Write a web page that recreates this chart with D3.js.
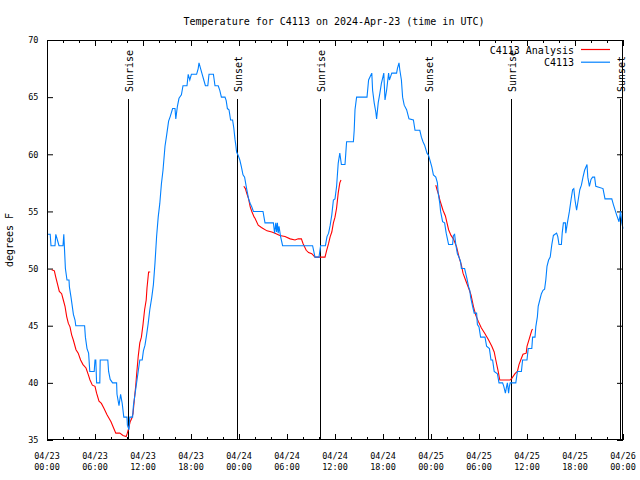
<!DOCTYPE html>
<html><head><meta charset="utf-8">
<script src="https://cdn.jsdelivr.net/npm/d3@7"></script>
<style>
body{margin:0;background:#fff}
svg{display:block}
text{font-family:"DejaVu Sans Mono","Liberation Mono",monospace;font-size:10px;fill:#000}
text.tick{font-size:8.5px}
</style>
</head><body>
<svg id="chart" width="640" height="480"></svg>
<script>
// ---- DATA (hours after 2024-04-23 00:00 UTC) ----
const obsHours = [0.0,0.4,0.5,1.0,1.1,1.3,1.5,2.0,2.1,2.3,2.5,2.75,2.8,3.0,3.1,3.3,3.5,3.6,4.7,4.8,5.0,5.2,5.35,5.9,6.0,6.1,6.2,6.6,6.65,7.6,7.7,7.9,8.2,8.7,8.75,9.0,9.1,9.2,9.4,9.6,10.0,10.05,10.25,10.35,10.7,10.8,11.0,11.2,11.4,11.6,11.9,12.05,12.25,12.45,12.65,12.85,13.1,13.3,13.5,13.7,13.9,14.1,14.3,14.5,14.75,14.96,15.2,15.4,15.7,16.0,16.1,16.3,16.5,16.8,17.0,17.5,17.65,17.85,18.05,18.7,18.9,19.0,19.2,19.4,19.6,19.8,20.1,20.25,20.8,21.0,21.4,21.6,21.8,22.25,22.4,22.55,22.75,22.95,23.2,23.35,23.5,23.6,23.7,23.9,24.1,24.3,24.5,24.7,24.95,25.2,25.4,25.6,25.8,27.0,27.25,28.3,28.45,28.6,28.7,28.8,28.9,29.0,29.2,29.45,33.2,33.5,34.0,34.2,34.8,35.0,35.2,35.4,35.6,35.8,36.0,36.2,36.4,36.6,36.8,37.25,37.35,37.45,38.3,38.4,38.5,38.7,40.0,40.2,40.4,40.6,40.7,40.9,41.1,41.2,41.4,41.6,41.8,42.0,42.1,42.25,42.45,42.7,42.8,42.95,43.1,43.7,43.8,44.0,44.1,44.3,44.45,44.65,44.95,45.25,45.8,46.0,46.6,46.8,47.0,47.2,47.5,47.7,47.9,48.1,48.3,48.6,48.8,48.9,49.1,49.2,49.45,49.7,49.9,50.2,50.7,50.8,50.95,51.1,51.3,51.5,51.7,51.8,52.2,52.5,52.7,52.85,52.95,53.2,53.4,53.7,53.8,54.0,54.2,54.75,54.95,55.3,55.5,55.7,55.9,56.3,56.5,56.95,57.1,57.3,57.45,57.55,57.7,57.8,57.9,58.6,58.8,59.3,59.45,60.0,60.15,60.6,60.7,61.0,61.1,61.3,61.4,61.6,61.8,62.0,62.2,62.35,62.5,62.7,62.9,63.1,63.3,63.7,63.85,64.0,64.3,64.4,64.55,64.8,64.85,65.05,65.3,65.5,65.7,65.85,66.0,66.2,66.4,66.6,66.8,67.0,67.2,67.5,67.6,67.8,68.0,68.2,68.45,68.6,69.5,69.75,70.6,70.8,71.2,71.5,71.7,71.85,72.0];
const obsTemps = [53,53,52,52,53,52.5,52,52,53,50,49,49,48.4,47.5,47,46,45.5,45,45,44,43,42.6,41,41,42,42,40,40,42,42,41,40.3,40,40,39,38,38.5,39,38.2,37,37,36.3,35.9,37,37,38,39,40,41,42,42,42.8,43.3,44.2,45.2,46.4,47.5,48.6,50.5,52.8,54.5,55.7,57.4,58.6,60.7,61.7,62.9,63.3,64,64,63.1,64.2,64.9,65.2,66,66,67,66.5,67,67,67.5,68,67.5,67,66.5,66,66,67,67,66,66,65.6,65,65,64.7,64,63.9,63,63,62.3,61.3,60.8,60.2,59.9,59.5,58.9,58.2,58,57,56.1,55.7,55.4,55,55,54,54,53.1,54,53.2,54,53.1,53.7,52.8,52,52,51,51,52,52,52.8,53.1,53.8,54.7,56,56.1,57.2,59.2,60.1,59.1,59.1,60.1,61.1,61.1,62.1,63.9,65,65,66.5,66.8,67.1,65.6,64.5,63.7,63.1,64.5,65.3,66.2,66.8,67.1,64.75,65.6,67.1,66.5,66.8,67.1,67.1,67.5,68,67.4,66.5,65,64.3,63.9,63.1,63,62.1,62.1,61.5,61.1,60.8,60.1,59.9,59.4,58.9,58.2,58,57.5,56.6,55.7,55,54.1,54,53.1,52.1,52.1,52.9,53,52.1,51.3,51,50.6,50,50,49.1,48.4,48.1,47.5,46.7,46.1,46.1,45.1,44.9,44,44,43.2,43,42,42,41,40.8,40,40,39.7,39.1,39.7,40,39.1,39.7,40,40,41,41,42,42,43,43,44,44,44.9,45.8,46.7,47.25,47.8,48.1,48.2,49,50.2,50.75,51,52.1,52.9,53.1,52.8,52.1,52.1,53.1,54,54,53.1,54,55,56,56.9,57,56,55.1,56,56.9,57.3,58,58.6,59.1,58,57.2,57.8,58,58,57.2,57,56.1,56.1,55.6,54.7,54.1,55,54,53.5];

// analysis series; null separates the three runs
const anaHours = [0.58,0.92,1.08,1.33,1.54,1.83,2.04,2.25,2.46,2.67,2.875,3.08,3.29,3.625,3.9,4.2,4.5,4.875,5.17,5.375,5.67,6.0,6.2,6.5,6.8,7.1,7.5,7.75,8.0,8.3,8.6,9.1,9.5,9.9,10.04,10.2,10.4,10.6,10.75,10.9,11.1,11.2,11.4,11.6,11.8,12.0,12.2,12.4,12.5,12.7,12.9,
  13.5,
  24.6,24.8,24.96,25.2,25.4,25.6,25.9,26.0,26.4,26.8,27.5,28.1,28.5,29.1,29.75,30.4,31.0,31.4,31.8,32.0,32.4,32.7,33.1,33.5,34.75,34.96,35.2,35.4,35.6,35.8,36.0,36.2,36.4,36.6,36.75,
  37.5,
  48.6,48.75,48.98,49.1,49.5,49.8,50.0,50.2,50.5,50.8,51.2,51.5,51.8,52.0,52.4,52.7,53.0,53.3,53.6,53.9,54.3,54.75,55.2,55.6,55.9,56.1,56.4,56.6,57.9,58.1,58.5,58.8,59.0,59.3,59.5,59.9,60.0,60.3,60.6,60.7];
const anaTemps = [49.9,49.8,49.3,48.6,48.0,47.8,47.25,46.7,45.8,45.2,44.9,44.2,43.75,42.9,42.6,42.0,41.6,41.3,40.7,40.25,39.8,39.7,39.1,38.4,38.2,37.8,37.2,36.9,36.6,36.1,35.6,35.6,35.4,35.3,35.6,36.0,36.6,36.9,37.3,38.4,39.8,40.7,42.3,43.5,44.0,45.1,46.4,47.25,48.3,49.7,49.7,
  null,
  57.2,57.0,56.6,56.1,55.4,55.0,54.5,54.4,53.8,53.6,53.3,53.2,53.1,52.9,52.8,52.6,52.5,52.6,52.6,52.2,51.6,51.4,51.3,51.0,51.0,51.6,52.2,52.8,53.2,54.0,54.5,55.3,56.6,57.5,57.75,
  null,
  57.3,56.9,56.4,56.0,55.1,54.6,54.0,53.4,52.9,52.6,51.9,51.0,50.3,49.6,48.85,48.3,47.7,46.7,45.9,45.4,44.8,44.3,43.75,43.2,42.7,42.0,41.0,40.25,40.25,40.4,40.8,41.0,41.6,42.15,42.5,42.6,43.2,43.9,44.6,44.7];

const sunLabels = ["Sunrise","Sunset","Sunrise","Sunset","Sunrise","Sunset"];
const sunHours = [10.17,23.7,34.1,47.67,58.0,71.6];

const yTicks = [35,40,45,50,55,60,65,70];
const titleText = "Temperature for C4113 on 2024-Apr-23 (time in UTC)";
const yLabel = "degrees F";
const seriesNames = ["C4113 Analysis","C4113"];
const seriesColors = ["#ff0000","#0080ff"];

// ---- CHART ----
const base = Date.UTC(2024,3,23,0,0);
const toDate = h => new Date(base + h*3600000);
const L=47,R=623,T=40,B=440;
const svg = d3.select("#chart");
const x = d3.scaleUtc().domain([toDate(0),toDate(72)]).range([L,R]);
const y = d3.scaleLinear().domain([35,70]).range([B,T]);

svg.append("rect").attr("width",640).attr("height",480).attr("fill","#fff");

// title
svg.append("text").attr("x",334).attr("y",24.5).attr("text-anchor","middle").text(titleText);
// y label
svg.append("text").attr("transform","translate(13,240) rotate(-90)").attr("text-anchor","middle").text(yLabel);

const major = d3.utcHour.every(6), minor = d3.utcHour.every(2);
function styleAxis(g){ g.select(".domain").remove(); g.selectAll("line").attr("stroke","#000"); }

// bottom axis ticks
svg.append("g").attr("transform",`translate(0,${B})`)
  .call(d3.axisBottom(x).ticks(minor).tickSize(-3).tickFormat("")).call(styleAxis);
svg.append("g").attr("transform",`translate(0,${B})`)
  .call(d3.axisBottom(x).ticks(major).tickSize(-6).tickFormat("")).call(styleAxis);
// top axis ticks
svg.append("g").attr("transform",`translate(0,${T})`)
  .call(d3.axisTop(x).ticks(minor).tickSize(-3).tickFormat("")).call(styleAxis);
svg.append("g").attr("transform",`translate(0,${T})`)
  .call(d3.axisTop(x).ticks(major).tickSize(-6).tickFormat("")).call(styleAxis);
// x labels (two lines)
const fD = d3.utcFormat("%m/%d"), fT = d3.utcFormat("%H:%M");
x.ticks(major).forEach(d=>{
  const t = svg.append("text").attr("class","tick").attr("x",x(d)).attr("text-anchor","middle");
  t.append("tspan").attr("x",x(d)).attr("y",458.5).text(fD(d));
  t.append("tspan").attr("x",x(d)).attr("y",469.8).text(fT(d));
});
// left axis
svg.append("g").attr("transform",`translate(${L},0)`)
  .call(d3.axisLeft(y).tickValues(yTicks).tickSize(-6).tickPadding(8.5).tickFormat(d3.format("d")))
  .call(styleAxis)
  .call(g=>g.selectAll("text").attr("class","tick").attr("font-size",null).attr("font-family",null).attr("fill","#000"));
// right axis
svg.append("g").attr("transform",`translate(${R},0)`)
  .call(d3.axisRight(y).tickValues(yTicks).tickSize(-6).tickFormat("")).call(styleAxis);

// sunrise/sunset lines
sunHours.forEach((h,i)=>{
  const xx = Math.round(x(toDate(h)))+0.5;
  svg.append("line").attr("x1",xx).attr("x2",xx).attr("y1",99).attr("y2",B).attr("stroke","#000").attr("stroke-width",1);
  svg.append("text").attr("transform",`translate(${xx+4},92) rotate(-90)`).attr("text-anchor","start").text(sunLabels[i]);
});

// data lines
const obs = obsHours.map((h,i)=>({d:toDate(h),v:obsTemps[i]}));
const ana = anaHours.map((h,i)=>({d:toDate(h),v:anaTemps[i]}));
const line = d3.line().defined(p=>p.v!==null).x(p=>x(p.d)).y(p=>y(p.v));
svg.append("path").datum(ana).attr("d",line).attr("fill","none").attr("stroke",seriesColors[0]).attr("stroke-width",1.1);
svg.append("path").datum(obs).attr("d",line).attr("fill","none").attr("stroke",seriesColors[1]).attr("stroke-width",1.1);

// border
svg.append("rect").attr("x",L+0.5).attr("y",T+0.5).attr("width",R-L-1).attr("height",B-T-1)
  .attr("fill","none").attr("stroke","#000").attr("stroke-width",1);

// legend
seriesNames.forEach((n,i)=>{
  const yy = 49.5 + i*12.7;
  svg.append("text").attr("x",574).attr("y",yy+4).attr("text-anchor","end").text(n);
  svg.append("line").attr("x1",581).attr("x2",610).attr("y1",yy).attr("y2",yy).attr("stroke",seriesColors[i]).attr("stroke-width",1.2);
});
</script>
</body></html>
